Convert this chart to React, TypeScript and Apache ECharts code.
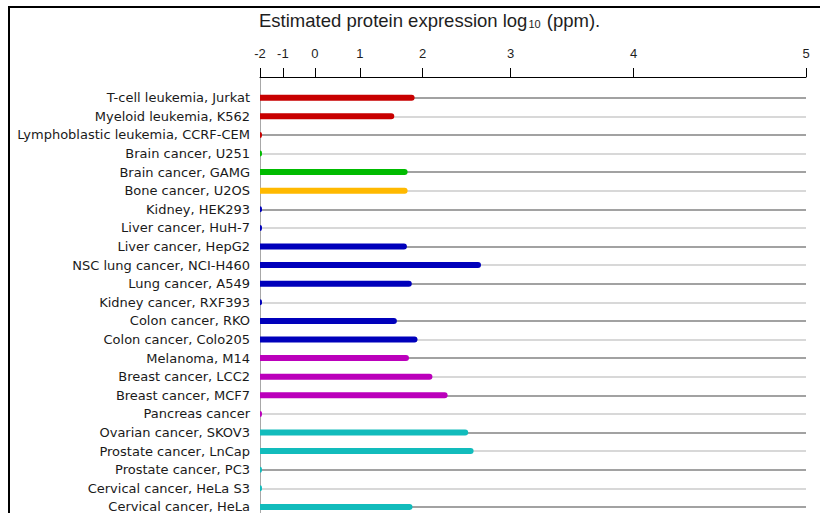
import { useEffect, useRef } from "react";
import * as echarts from "echarts";

// ---- data ----
const categories = [
  "T-cell leukemia, Jurkat",
  "Myeloid leukemia, K562",
  "Lymphoblastic leukemia, CCRF-CEM",
  "Brain cancer, U251",
  "Brain cancer, GAMG",
  "Bone cancer, U2OS",
  "Kidney, HEK293",
  "Liver cancer, HuH-7",
  "Liver cancer, HepG2",
  "NSC lung cancer, NCI-H460",
  "Lung cancer, A549",
  "Kidney cancer, RXF393",
  "Colon cancer, RKO",
  "Colon cancer, Colo205",
  "Melanoma, M14",
  "Breast cancer, LCC2",
  "Breast cancer, MCF7",
  "Pancreas cancer",
  "Ovarian cancer, SKOV3",
  "Prostate cancer, LnCap",
  "Prostate cancer, PC3",
  "Cervical cancer, HeLa S3",
  "Cervical cancer, HeLa",
];

// estimated protein expression, log10 (ppm)
const expression = [
  1.89, 1.59, -1.9, -1.9, 1.79, 1.79, -1.9, -1.9, 1.78, 2.7, 1.85, -1.9, 1.63,
  1.93, 1.81, 2.13, 2.32, -1.9, 2.56, 2.62, -1.9, -1.9, 1.86,
];

const groups = [
  "leukemia", "leukemia", "leukemia", "brain", "brain", "bone",
  "blue", "blue", "blue", "blue", "blue", "blue", "blue", "blue",
  "purple", "purple", "purple", "purple",
  "teal", "teal", "teal", "teal", "teal",
];

const groupColors: Record<string, string> = {
  leukemia: "#c80000",
  brain: "#00bb00",
  bone: "#ffb900",
  blue: "#0000bb",
  purple: "#bb00bb",
  teal: "#12bcbc",
};

const tickLabels = [-2, -1, 0, 1, 2, 3, 4, 5];

// axis scale of the original: position grows as 1.4^value
const BASE = 1.4;
const tx = (v: number) => Math.pow(BASE, v + 2) - 1;
const fromTx = (t: number) => Math.log(t + 1) / Math.log(BASE) - 2;
const X_MAX = tx(tickLabels[tickLabels.length - 1]);

const GRID_LEFT = 260;
const GRID_RIGHT = 14;
const ROW_H = 18.6;

export default function App() {
  const ref = useRef<HTMLDivElement>(null);

  useEffect(() => {
    if (!ref.current) return;
    const chart = echarts.init(ref.current, null, { renderer: "svg" });
    const labelFont = "DejaVu Sans";
    const option: any = {
      animation: false,
      backgroundColor: "#ffffff",
      title: {
        left: 259,
        top: 11,
        padding: 0,
        text: "{a|Estimated protein expression log}{s|10}{a| (ppm).}",
        textStyle: {
          fontWeight: "normal",
          fontFamily: "Liberation Sans",
          fontSize: 18,
          rich: {
            a: {
              fontFamily: "Liberation Sans",
              fontWeight: "normal",
              fontSize: 18.5,
              lineHeight: 18,
              verticalAlign: "top",
              color: "#1e1e1e",
            },
            s: {
              fontFamily: "Liberation Sans",
              fontWeight: "normal",
              fontSize: 11,
              lineHeight: 11,
              verticalAlign: "bottom",
              padding: [12, 1, 0, 1],
              color: "#1e1e1e",
            },
          },
        },
      },
      graphic: [
        {
          type: "rect",
          shape: { x: 9, y: 7, width: 900, height: 900 },
          style: { fill: "none", stroke: "#000", lineWidth: 2 },
          silent: true,
          z: 100,
        },
      ],
      grid: [
        {
          left: GRID_LEFT,
          right: GRID_RIGHT,
          top: 88.4,
          height: ROW_H * categories.length,
        },
        {
          left: GRID_LEFT,
          right: GRID_RIGHT,
          top: 77,
          bottom: 0,
        },
      ],
      xAxis: [
        {
          gridIndex: 0,
          type: "value",
          min: 0,
          max: X_MAX,
          show: false,
        },
        {
          gridIndex: 1,
          type: "value",
          position: "top",
          min: 0,
          max: X_MAX,
          axisLine: {
            show: true,
            onZero: false,
            lineStyle: { color: "#000", width: 1 },
          },
          axisTick: {
            show: true,
            inside: false,
            length: 9,
            customValues: tickLabels.map(tx),
            lineStyle: { color: "#000", width: 1 },
          },
          axisLabel: {
            show: true,
            customValues: tickLabels.map(tx),
            margin: 17,
            fontFamily: "Liberation Sans",
            fontSize: 13,
            color: "#1e1e1e",
            formatter: (v: number) => String(Math.round(fromTx(v))),
          },
          splitLine: { show: false },
        },
      ],
      yAxis: [
        {
          gridIndex: 0,
          type: "category",
          inverse: true,
          data: categories,
          axisLine: { show: false },
          axisTick: { show: false },
          splitLine: { show: false },
          axisLabel: {
            margin: 10,
            fontFamily: labelFont,
            fontSize: 13,
            color: "#1a1a1a",
          },
        },
        {
          gridIndex: 1,
          type: "value",
          min: 0,
          max: 1,
          axisLine: {
            show: true,
            onZero: false,
            lineStyle: { color: "#a8a8a8", width: 1 },
          },
          axisTick: { show: false },
          axisLabel: { show: false },
          splitLine: { show: false },
        },
      ],
      series: [
        {
          type: "bar",
          xAxisIndex: 0,
          yAxisIndex: 0,
          barWidth: 6,
          z: 3,
          data: expression.map((v, i) => ({
            value: tx(v),
            itemStyle: {
              color: groupColors[groups[i]],
              borderRadius: [0, 3, 3, 0],
            },
          })),
          markLine: {
            silent: true,
            z: 1,
            symbol: ["none", "none"],
            label: { show: false },
            emphasis: { disabled: true },
            data: categories.map((c, i) => ({
              yAxis: c,
              lineStyle: {
                type: "solid",
                width: 2,
                color: i % 2 === 0 ? "#a2a2a2" : "#d8d8d8",
              },
            })),
          },
        },
        {
          type: "line",
          xAxisIndex: 1,
          yAxisIndex: 1,
          data: [],
          silent: true,
        },
      ],
    };
    chart.setOption(option);
    return () => chart.dispose();
  }, []);

  return (
    <div
      ref={ref}
      style={{
        position: "fixed",
        left: 0,
        top: 0,
        width: 820,
        height: 540,
        background: "#fff",
      }}
    />
  );
}
